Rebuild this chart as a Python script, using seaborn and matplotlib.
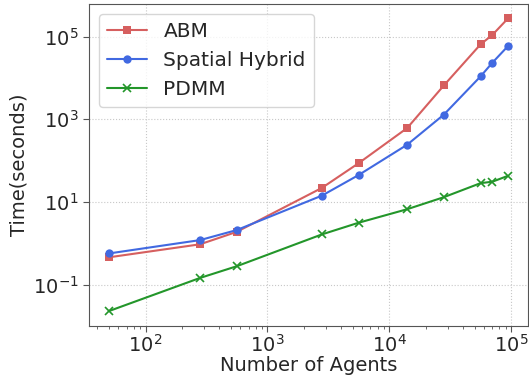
import matplotlib
matplotlib.use('Agg')
import seaborn as sns
import matplotlib.pyplot as plt
from matplotlib.ticker import NullLocator

# values
agents = [50, 280, 560, 2800, 5600, 14000, 28000, 56000, 70000, 94000]
abm = [0.46, 0.95, 1.9, 22, 87, 615, 6600, 65000, 110000, 275000]
hybrid = [0.57, 1.2, 2.1, 14.3, 45, 243, 1300, 10900, 23400, 59000]
pdmm = [0.023, 0.146, 0.28, 1.65, 3.16, 6.7, 13.1, 28.6, 31, 43]
yticks = [0.1, 10, 1000, 100000]

series = [('ABM', abm, '#d65f5f', 's'),
          ('Spatial Hybrid', hybrid, '#4169e1', 'o'),
          ('PDMM', pdmm, '#23962a', 'x')]

sns.set_style('whitegrid', {'grid.linestyle': ':', 'grid.color': '#c8c8c8',
                            'axes.edgecolor': '#555555',
                            'xtick.bottom': True, 'ytick.left': True})
plt.rcParams['font.family'] = ['DejaVu Sans']

fig, ax = plt.subplots(figsize=(5.29, 3.81), dpi=100)
fig.subplots_adjust(left=0.168, right=0.998, top=0.99, bottom=0.145)

for name, vals, col, mk in series:
    sns.lineplot(x=agents, y=vals, color=col, marker=mk, markersize=6,
                 linewidth=1.5, markeredgewidth=1.2 if mk == 'x' else 0,
                 markeredgecolor=col, label=name, ax=ax)

ax.set_xscale('log')
ax.set_yscale('log')
ax.set_yticks(yticks)
ax.yaxis.set_minor_locator(NullLocator())
ax.set_xlabel('Number of Agents', fontsize=14, labelpad=0)
ax.set_ylabel('Time(seconds)', fontsize=14, labelpad=3)
ax.tick_params(labelsize=14, length=4, color='#555555')
ax.tick_params(axis='x', pad=2)
ax.tick_params(which='minor', length=2, color='#555555')

ax.legend(loc='upper left', fontsize=14.5, frameon=True)

fig.savefig('out.png', dpi=100)
